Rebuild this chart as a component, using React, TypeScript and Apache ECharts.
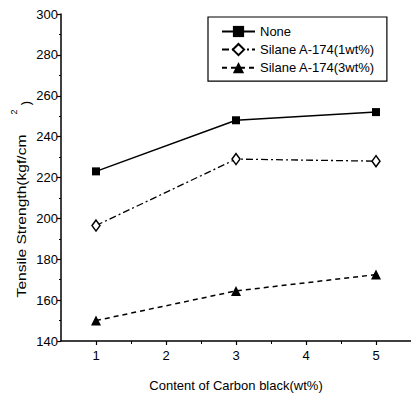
import React, { useEffect, useRef } from "react";
import * as echarts from "echarts";

const xValues = [1, 3, 5];
const noneValues = [223, 248, 252];
const silane1Values = [196.5, 229, 228];
const silane3Values = [150, 164.5, 172.5];
const xTickValues = [1, 2, 3, 4, 5];
const xMinorTickValues = [1.5, 2.5, 3.5, 4.5];
const seriesNames = ["None", "Silane A-174(1wt%)", "Silane A-174(3wt%)"];

const FONT = "'Liberation Sans', Arial, sans-serif";

export default function App() {
  const ref = useRef<HTMLDivElement>(null);
  useEffect(() => {
    if (!ref.current) return;
    const chart = echarts.init(ref.current, null, { renderer: "svg" });
    const pair = (ys: number[]) => xValues.map((x, i) => [x, ys[i]]);
    const axisCommon = {
      axisLine: { show: true, lineStyle: { color: "#000", width: 1.5 } },
      splitLine: { show: false },
    };
    chart.setOption({
      animation: false,
      backgroundColor: "#fff",
      textStyle: { fontFamily: FONT, color: "#000" },
      grid: { left: 61, right: -2, top: 14, bottom: 55 },
      xAxis: [
        {
          type: "value",
          min: 0.5,
          max: 5.5,
          position: "bottom",
          ...axisCommon,
          axisTick: { show: true, length: 4, customValues: xTickValues, lineStyle: { color: "#000", width: 1.2 } },
          axisLabel: { customValues: xTickValues, fontSize: 13, color: "#000", margin: 8, fontFamily: FONT },
          name: "Content of Carbon black(wt%)",
          nameLocation: "middle",
          nameGap: 38,
          nameTextStyle: { fontSize: 13, color: "#000", fontFamily: FONT },
        },
        {
          type: "value",
          min: 0.5,
          max: 5.5,
          position: "bottom",
          axisLine: { show: false },
          splitLine: { show: false },
          axisLabel: { show: false },
          axisTick: { show: true, length: 3, customValues: xMinorTickValues, lineStyle: { color: "#000", width: 1 } },
        },
      ],
      yAxis: {
        type: "value",
        min: 140,
        max: 300,
        interval: 20,
        ...axisCommon,
        axisTick: { show: true, length: 4, lineStyle: { color: "#000", width: 1.2 } },
        minorTick: { show: true, splitNumber: 2, length: 2, lineStyle: { color: "#000", width: 1 } },
        axisLabel: { fontSize: 13, color: "#000", margin: 3, fontFamily: FONT },
      },
      legend: {
        left: 208,
        top: 17,
        orient: "vertical",
        padding: [8, 12, 7, 13],
        borderColor: "#000",
        borderWidth: 1.2,
        itemWidth: 33,
        itemHeight: 14,
        itemGap: 5,
        data: seriesNames,
        textStyle: { fontSize: 13, color: "#000", fontFamily: FONT },
      },
      series: [
        {
          name: seriesNames[0],
          type: "line",
          data: pair(noneValues),
          symbol: "rect",
          symbolSize: 8,
          itemStyle: { color: "#000" },
          lineStyle: { color: "#000", width: 1.5 },
        },
        {
          name: seriesNames[1],
          type: "line",
          data: pair(silane1Values),
          symbol: "diamond",
          symbolSize: [8, 11],
          itemStyle: { color: "#fff", borderColor: "#000", borderWidth: 1.5 },
          lineStyle: { color: "#000", width: 1.3, type: [7, 3, 2, 3] },
        },
        {
          name: seriesNames[2],
          type: "line",
          data: pair(silane3Values),
          symbol: "triangle",
          symbolSize: 10,
          itemStyle: { color: "#000" },
          lineStyle: { color: "#000", width: 1.5, type: [5, 4] },
        },
      ],
      graphic: [
        {
          type: "text",
          x: 21,
          y: 216,
          rotation: Math.PI / 2,
          scaleX: 1.2,
          scaleY: 1.05,
          style: {
            text: "Tensile Strength(kgf/cm",
            fontSize: 13,
            fontFamily: FONT,
            fill: "#000",
            textAlign: "center",
            textVerticalAlign: "middle",
          },
        },
        {
          type: "text",
          x: 14,
          y: 112,
          rotation: Math.PI / 2,
          style: {
            text: "2",
            fontSize: 9,
            fontFamily: FONT,
            fill: "#000",
            textAlign: "center",
            textVerticalAlign: "middle",
          },
        },
        {
          type: "text",
          x: 25,
          y: 103,
          rotation: Math.PI / 2,
          style: {
            text: ")",
            fontSize: 13,
            fontFamily: FONT,
            fill: "#000",
            textAlign: "center",
            textVerticalAlign: "middle",
          },
        },
      ],
    });
    return () => chart.dispose();
  }, []);
  return (
    <div
      ref={ref}
      style={{ position: "fixed", left: 0, top: 0, width: 411, height: 397, background: "#fff" }}
    />
  );
}
